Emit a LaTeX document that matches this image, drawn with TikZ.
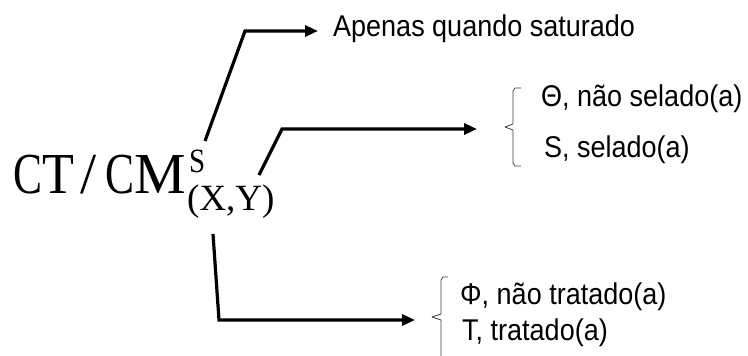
\documentclass[tikz,border=0pt]{standalone}
\usepackage{fontspec}
\usepackage{graphicx}
\setmainfont{Liberation Sans}
\newfontfamily\labelface[FakeStretch=0.9]{Liberation Sans}
\newfontfamily\serifface{Liberation Serif}
\usetikzlibrary{arrows.meta}
\begin{document}
\begin{tikzpicture}[x=1pt,y=-1pt,
  lead/.style={line width=3.2pt, line join=miter, -{Triangle[length=13pt,width=11pt]}},
  itemtext/.style={font=\labelface\fontsize{30}{30}\selectfont, inner sep=0pt, anchor=base west},
  formula/.style={font=\serifface\fontsize{58}{58}\selectfont, inner sep=0pt, anchor=base west},
  supfont/.style={font=\serifface\fontsize{34}{34}\selectfont, inner sep=0pt, anchor=base west},
  subfont/.style={font=\serifface\fontsize{37}{37}\selectfont, inner sep=0pt, anchor=base west},
  brace/.style={line width=0.8pt, draw=black!75, line join=round}]
  \fill[white] (0,0) rectangle (748,356);
  \useasboundingbox (0,0) rectangle (748,356);

  % symbol with superscript and subscript
  \node[formula] (ct) at (13,193)
    {\scalebox{0.75}[1]{C}\scalebox{0.9}[1]{T}\hspace{6pt}/\hspace{9pt}\scalebox{0.75}[1]{C}\scalebox{1.0}[1]{M}};
  \node[supfont] (sup) at (189,172) {\scalebox{0.85}[1]{S}};
  \node[subfont] (sub) at (187,210) {(X,Y)};

  % labels
  \node[itemtext] (sat) at (333,36) {Apenas quando saturado};
  \node[itemtext] (ns) at (541,106) {Θ, não selado(a)};
  \node[itemtext] (se) at (544,157) {S, selado(a)};
  \node[itemtext] (nt) at (460,304) {Φ, não tratado(a)};
  \node[itemtext] (tr) at (462,340) {T, tratado(a)};

  % start points and bends of the leaders
  \coordinate (a1) at (205,141);
  \coordinate (k1) at (245,31);
  \coordinate (a2) at (259,175);
  \coordinate (k2) at (282,129);
  \coordinate (a3) at (213,234);
  \coordinate (k3) at (219,320);
  \coordinate (br1) at (505,127);
  \coordinate (br2) at (432,317);

  % leaders
  \draw[lead, shorten >=15pt] (a1) -- (k1) -- (k1 -| sat.west);
  \draw[lead, shorten >=28pt] (a2) -- (k2) -- (k2 -| br1);
  \draw[lead, shorten >=17pt] (a3) -- (k3) -- (k3 -| br2);

  % braces grouping the options
  \draw[brace] (521,88) -- (515,88) -- (513,91) -- (513,124) -- (br1)
    -- (513,130) -- (513,163) -- (515,166) -- (521,166);
  \draw[brace] (448,277) -- (443,277) -- (441,280) -- (441,314) -- (br2)
    -- (441,320) -- (441,356);
\end{tikzpicture}
\end{document}
